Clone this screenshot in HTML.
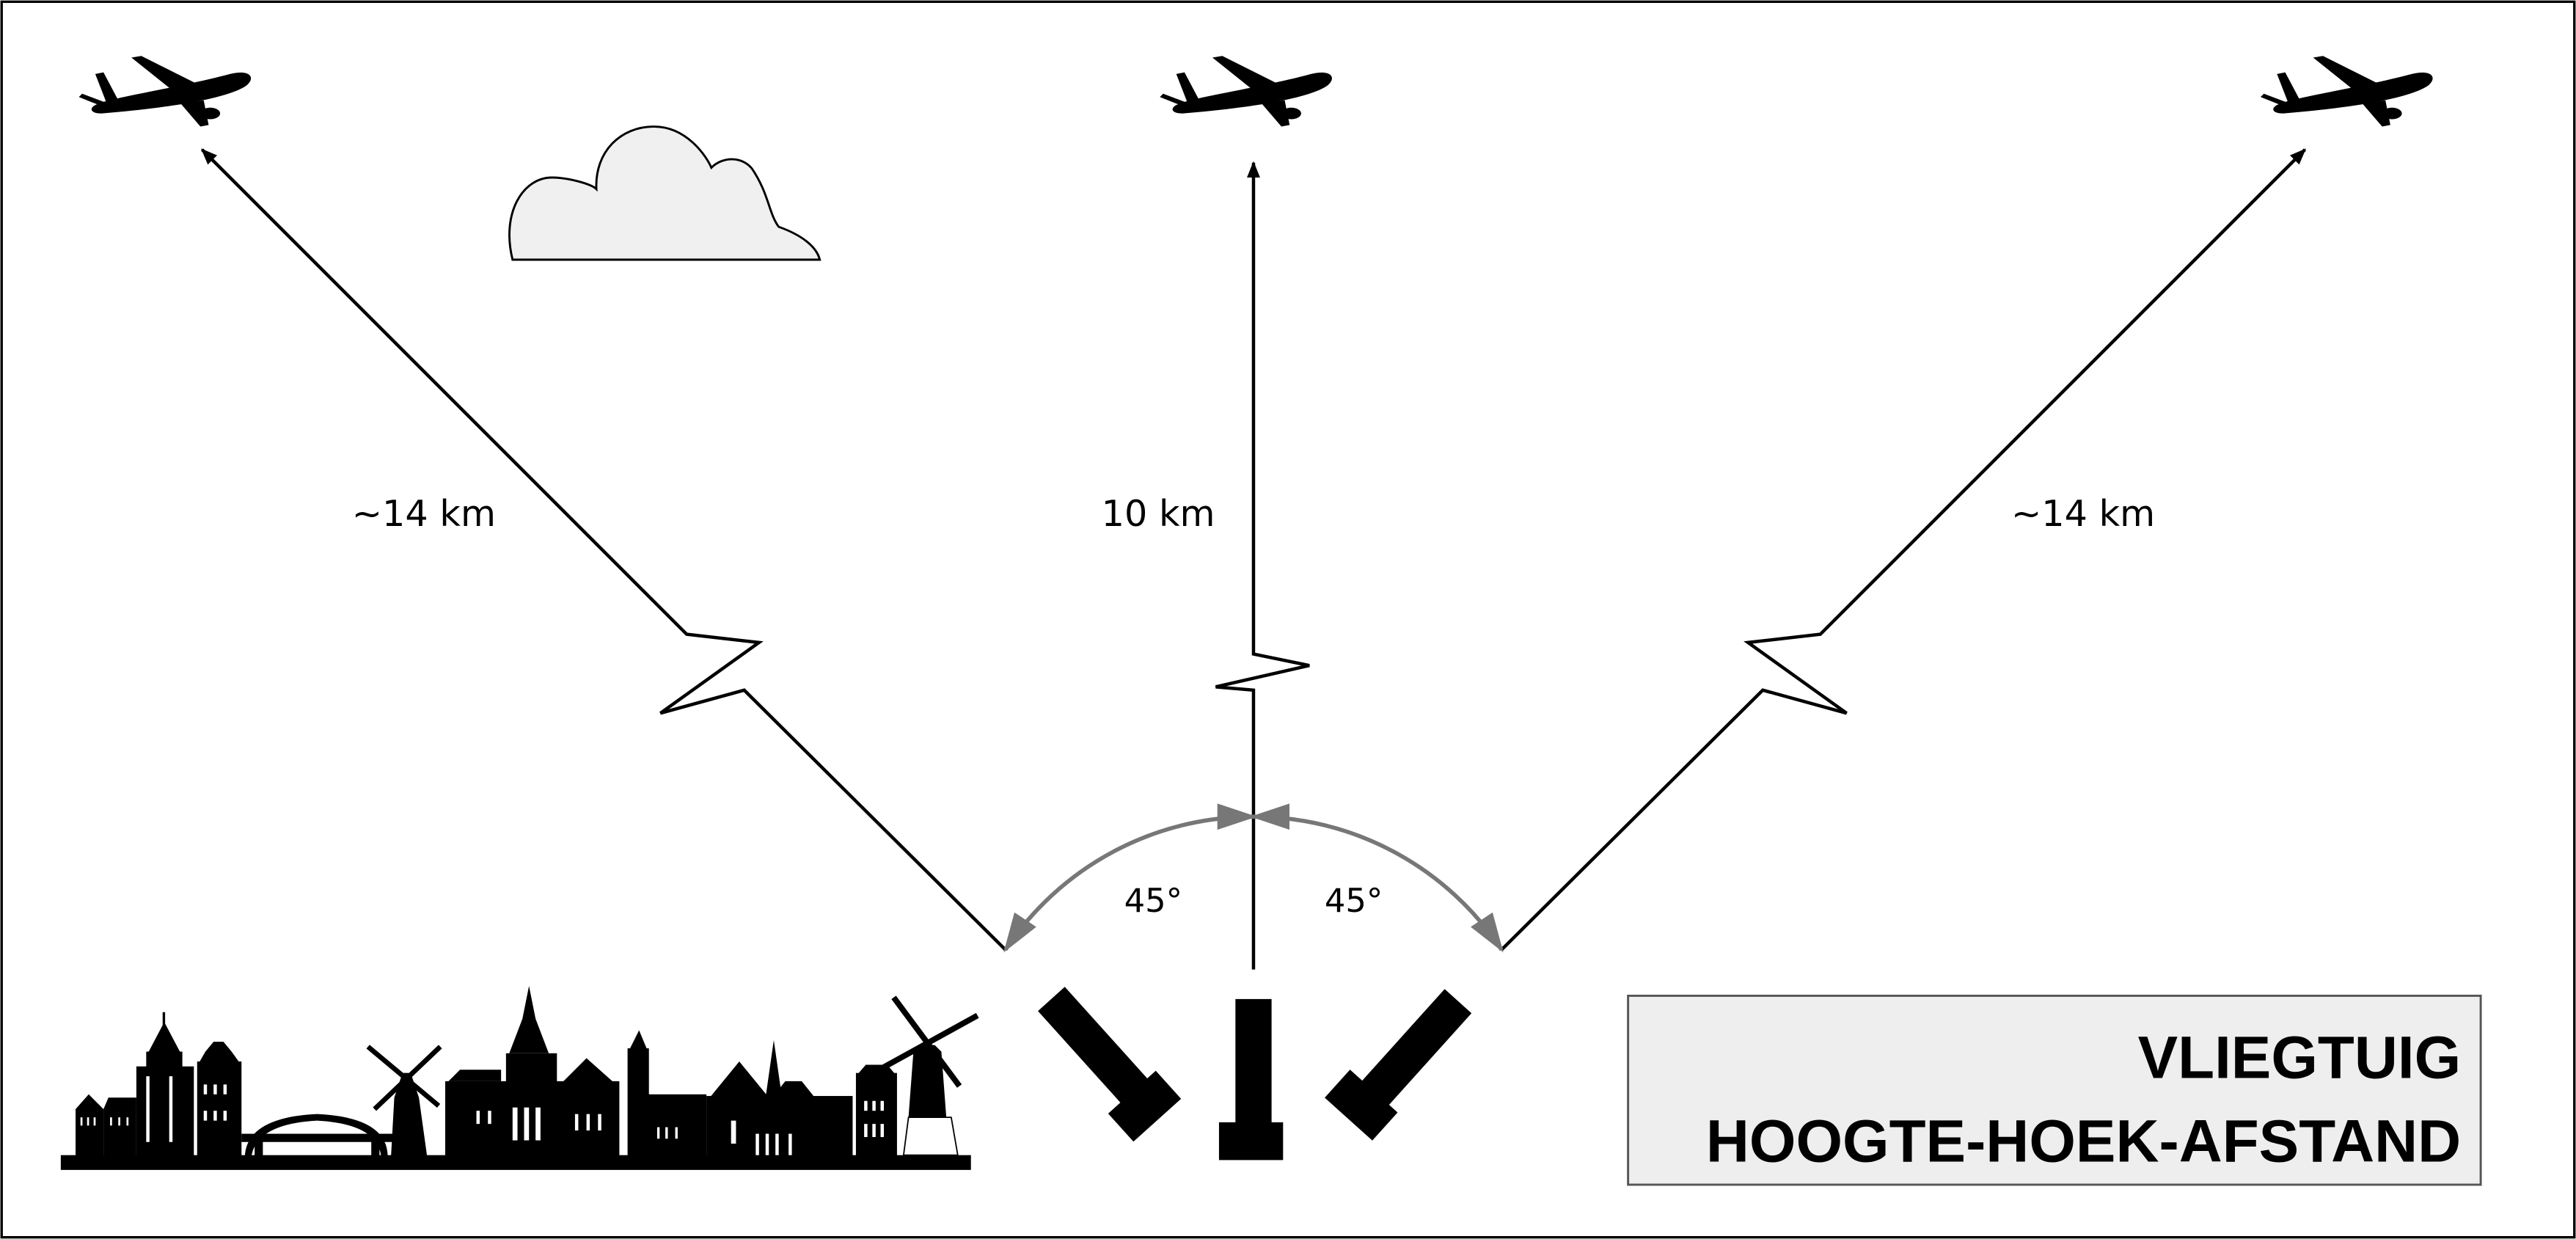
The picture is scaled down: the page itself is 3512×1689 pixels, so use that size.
<!DOCTYPE html>
<html><head><meta charset="utf-8"><style>
html,body{margin:0;padding:0;background:#fff;}
svg{display:block;}
text{font-family:"DejaVu Sans","Liberation Sans",sans-serif;}
</style></head><body>
<svg width="3512" height="1689" viewBox="0 0 1568 754" xmlns="http://www.w3.org/2000/svg">
<defs>
<marker id="ab" markerWidth="10" markerHeight="8" refX="9" refY="4" orient="auto" markerUnits="userSpaceOnUse"><path d="M0,0 L10,4 L0,8 Z" fill="#000"/></marker>
<marker id="ag" markerWidth="24" markerHeight="16" refX="22" refY="8" orient="auto" markerUnits="userSpaceOnUse"><path d="M0,0 L24,8 L0,16 Z" fill="#777"/></marker>
<marker id="ags" markerWidth="24" markerHeight="16" refX="2" refY="8" orient="auto" markerUnits="userSpaceOnUse"><path d="M24,0 L0,8 L24,16 Z" fill="#777"/></marker>
<g id="plane">
<path d="M-40,8 C-30,4 10,-2 40,-10 C52,-13 56,-8 50,-3 C40,4 10,10 -38,14 C-46,14 -46,10 -40,8 Z" fill="#000"/>
<path d="M5,0 L-20,-20 L-14,-21 L22,-3 Z" fill="#000"/>
<path d="M10,8 L22,22 L27,21 L24,6 Z" fill="#000"/>
<path d="M-35,8 L-42,-10 L-37,-11 L-28,6 Z" fill="#000"/>
<path d="M-37,10 L-52,4 L-50,2 L-34,8 Z" fill="#000"/>
<ellipse cx="28" cy="14" rx="6" ry="3.5" fill="#000"/>
</g>
<g id="inst">
<rect x="752" y="608" width="22" height="76" fill="#000"/>
<rect x="742" y="683" width="39" height="23" fill="#000"/>
</g>
</defs>
<rect x="1" y="1" width="1566" height="752" fill="#fff" stroke="#000" stroke-width="1.5"/>

<use href="#plane" x="100" y="55"/>
<use href="#plane" x="758" y="55"/>
<use href="#plane" x="1428" y="55"/>

<!-- cloud -->
<path d="M312,158 C305,130 318,108 336,108 C346,108 360,112 363,115 C362,92 378,77 398,77 C418,77 430,95 433,102 C440,95 452,95 458,103 C468,118 468,130 474,138 C488,143 497,150 499,158 Z" fill="#eff0ef" stroke="#000" stroke-width="1.3"/>

<!-- lines -->
<path d="M612,578 L453,420 L402,434 L462,391 L418,386 L123,91" fill="none" stroke="#000" stroke-width="2" marker-end="url(#ab)"/>
<path d="M763,590 L763,420 L740,418 L797,405 L763,398 L763,99" fill="none" stroke="#000" stroke-width="2" marker-end="url(#ab)"/>
<path d="M914,578 L1073,420 L1124,434 L1064,391 L1108,386 L1403,91" fill="none" stroke="#000" stroke-width="2" marker-end="url(#ab)"/>

<!-- arcs -->
<path d="M612,578 A181,181 0 0 1 763,497" fill="none" stroke="#777" stroke-width="2.5" marker-start="url(#ags)" marker-end="url(#ag)"/>
<path d="M914,578 A181,181 0 0 0 763,497" fill="none" stroke="#777" stroke-width="2.5" marker-start="url(#ags)" marker-end="url(#ag)"/>

<text x="702" y="555" font-size="20" text-anchor="middle">45°</text>
<text x="824" y="555" font-size="20" text-anchor="middle">45°</text>
<text x="258" y="320" font-size="22" text-anchor="middle">~14 km</text>
<text x="705" y="320" font-size="22" text-anchor="middle">10 km</text>
<text x="1268" y="320" font-size="22" text-anchor="middle">~14 km</text>

<!-- instruments -->
<use href="#inst"/>
<use href="#inst" transform="translate(672,645) rotate(-42) translate(-762,-657)"/>
<use href="#inst" transform="translate(854,645) rotate(42) translate(-762,-657)"/>

<!-- title box -->
<rect x="991" y="606" width="519" height="115" fill="#eeeeee" stroke="#555" stroke-width="1.3"/>
<text x="1498" y="656" font-size="36.5" font-weight="bold" text-anchor="end" style="font-family:'Liberation Sans',sans-serif">VLIEGTUIG</text>
<text x="1498" y="707" font-size="36.5" font-weight="bold" text-anchor="end" style="font-family:'Liberation Sans',sans-serif">HOOGTE-HOEK-AFSTAND</text>

<!-- skyline -->
<g fill="#000">
<rect x="37" y="703" width="554" height="9"/>
<path d="M46,704 L46,675 L54,666 L63,675 L63,704 Z"/>
<path d="M63,704 L63,675 L66,668 L83,668 L83,704 Z"/>
<rect x="83" y="649" width="35" height="55"/>
<rect x="89" y="640" width="22" height="10"/>
<path d="M90,641 L100,622 L110,641 Z"/>
<rect x="99" y="616" width="1.5" height="8"/>
<rect x="120" y="646" width="27" height="58"/>
<path d="M121,647 L125,640 L130,634 L136,634 L141,640 L146,647 Z"/>
<rect x="147" y="690" width="93" height="5"/>
<path d="M149,704 Q150,680 193,678 Q236,680 236,704 L232,704 Q230,684 193,682 Q156,684 153,704 Z"/>
<rect x="155" y="693" width="5" height="11"/><rect x="226" y="693" width="5" height="11"/>
<path d="M238,704 L240,668 L245,653 L250,653 L255,668 L260,704 Z"/>
<path d="M224,637 L267,673" stroke="#000" stroke-width="3"/>
<path d="M268,637 L228,675" stroke="#000" stroke-width="3"/>
<rect x="271" y="658" width="106" height="46"/>
<path d="M273,658 L280,651 L305,651 L305,658 Z"/>
<rect x="308" y="641" width="31" height="20"/>
<path d="M310,641 L318,620 L322,600 L326,620 L334,641 Z"/>
<path d="M341,660 L357,644 L375,660 Z"/>
<rect x="382" y="638" width="13" height="66"/>
<path d="M383,639 L389,627 L394,639 Z"/>
<rect x="391" y="666" width="39" height="38"/>
<rect x="430" y="667" width="89" height="37"/>
<path d="M432,668 L450,646 L468,668 Z"/>
<path d="M466,668 L471,633 L476,668 Z"/>
<path d="M470,668 L478,658 L488,658 L496,668 Z"/>
<rect x="521" y="653" width="25" height="51"/>
<path d="M521,655 L527,648 L540,648 L546,655 Z"/>
<path d="M553,680 L556,640 L560,636 L569,636 L573,640 L576,680 Z"/>
<path d="M553,680 L550,703 L583,703 L579,680 Z" fill="#fff" stroke="#000" stroke-width="0.8"/>
<path d="M544,607 L584,661" stroke="#000" stroke-width="3.5"/>
<path d="M595,618 L537,650" stroke="#000" stroke-width="3.5"/>
</g>
<g fill="#fff">
<rect x="49" y="680" width="1.2" height="5"/><rect x="53" y="680" width="1.2" height="5"/><rect x="57" y="680" width="1.2" height="5"/>
<rect x="67" y="680" width="1.2" height="5"/><rect x="72" y="680" width="1.2" height="5"/><rect x="77" y="680" width="1.2" height="5"/>
<rect x="89" y="655" width="2" height="40"/><rect x="103" y="655" width="2" height="40"/>
<rect x="124" y="660" width="2" height="6"/><rect x="130" y="660" width="2" height="6"/><rect x="136" y="660" width="2" height="6"/>
<rect x="124" y="676" width="2" height="6"/><rect x="130" y="676" width="2" height="6"/><rect x="136" y="676" width="2" height="6"/>
<rect x="290" y="676" width="2" height="8"/><rect x="297" y="676" width="2" height="8"/>
<rect x="312" y="674" width="3" height="20"/><rect x="319" y="674" width="3" height="20"/><rect x="326" y="674" width="3" height="20"/>
<rect x="350" y="678" width="2" height="10"/><rect x="357" y="678" width="2" height="10"/><rect x="364" y="678" width="2" height="10"/>
<rect x="400" y="686" width="1.5" height="7"/><rect x="405" y="686" width="1.5" height="7"/><rect x="411" y="686" width="1.5" height="7"/>
<rect x="445" y="682" width="3" height="14"/><rect x="460" y="690" width="2" height="13"/><rect x="466" y="690" width="2" height="13"/><rect x="472" y="690" width="2" height="13"/><rect x="480" y="690" width="2" height="13"/>
<rect x="526" y="670" width="2" height="6"/><rect x="531" y="670" width="2" height="6"/><rect x="536" y="670" width="2" height="6"/>
<rect x="526" y="684" width="2" height="8"/><rect x="531" y="684" width="2" height="8"/><rect x="536" y="684" width="2" height="8"/>
</g>
</svg>
</body></html>
